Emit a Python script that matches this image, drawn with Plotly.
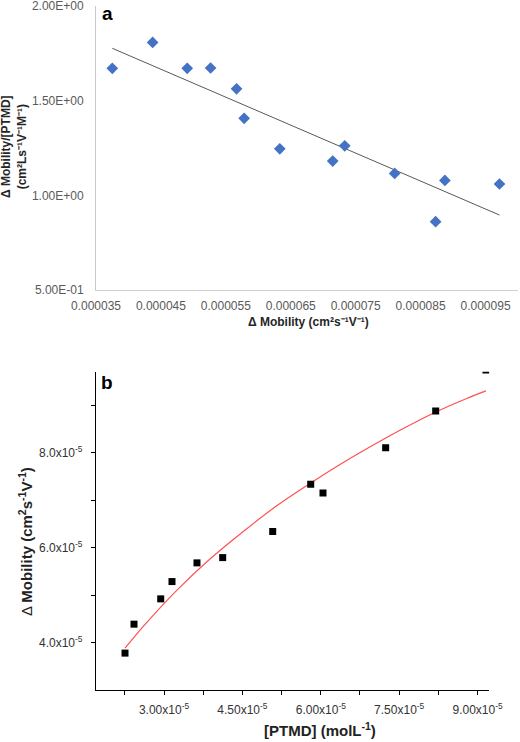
import plotly.graph_objects as go

W, H = 520, 742

# ---------------- Panel a data ----------------
a_x = [3.751e-5, 4.372e-5, 4.905e-5, 5.265e-5, 5.665e-5, 5.782e-5, 6.331e-5,
       7.146e-5, 7.331e-5, 8.100e-5, 8.731e-5, 8.874e-5, 9.715e-5]
a_y = [1.671, 1.808, 1.671, 1.673, 1.563, 1.407, 1.246,
       1.181, 1.262, 1.116, 0.861, 1.079, 1.060]
a_trend_x = [3.751e-5, 9.715e-5]
a_trend_y = [1.777, 0.896]
a_xticks = [3.5e-5, 4.5e-5, 5.5e-5, 6.5e-5, 7.5e-5, 8.5e-5, 9.5e-5]
a_xticklabels = ["0.000035", "0.000045", "0.000055", "0.000065", "0.000075", "0.000085", "0.000095"]
a_yticks = [0.5, 1.0, 1.5, 2.0]
a_yticklabels = ["5.00E-01", "1.00E+00", "1.50E+00", "2.00E+00"]

# ---------------- Panel b data ----------------
b_x = [2.254e-5, 2.426e-5, 2.937e-5, 3.153e-5, 3.631e-5, 4.123e-5, 5.080e-5,
       5.807e-5, 6.042e-5, 7.241e-5, 8.198e-5, 9.160e-5]
b_y = [3.777e-5, 4.387e-5, 4.920e-5, 5.284e-5, 5.678e-5, 5.789e-5, 6.337e-5,
       7.335e-5, 7.152e-5, 8.105e-5, 8.878e-5, 9.740e-5]
b_fit_x = [2.254e-5, 2.604e-5, 3.243e-5, 3.880e-5, 4.517e-5, 5.156e-5, 5.793e-5,
           6.430e-5, 6.878e-5, 7.515e-5, 8.152e-5, 8.791e-5, 9.160e-5]
b_fit_y = [3.880e-5, 4.340e-5, 5.100e-5, 5.760e-5, 6.340e-5, 6.880e-5, 7.350e-5,
           7.790e-5, 8.080e-5, 8.470e-5, 8.830e-5, 9.140e-5, 9.300e-5]
b_xticks = [3.0e-5, 4.5e-5, 6.0e-5, 7.5e-5, 9.0e-5]
b_xticklabels = ["3.00x10<sup>-5</sup>", "4.50x10<sup>-5</sup>", "6.00x10<sup>-5</sup>",
                 "7.50x10<sup>-5</sup>", "9.00x10<sup>-5</sup>"]
b_xminor = [2.25e-5, 3.75e-5, 5.25e-5, 6.75e-5, 8.25e-5]
b_yticks = [4.0e-5, 6.0e-5, 8.0e-5]
b_yticklabels = ["4.0x10<sup>-5</sup>", "6.0x10<sup>-5</sup>", "8.0x10<sup>-5</sup>"]
b_yminor = [5.0e-5, 7.0e-5, 9.0e-5]

FONT = "Liberation Sans, Arial, sans-serif"

fig = go.Figure()

fig.add_trace(go.Scatter(x=a_trend_x, y=a_trend_y, mode="lines",
                         line=dict(color="#595959", width=1),
                         xaxis="x", yaxis="y", showlegend=False, hoverinfo="skip"))
fig.add_trace(go.Scatter(x=a_x, y=a_y, mode="markers",
                         marker=dict(symbol="diamond", size=9, color="#4472C4"),
                         xaxis="x", yaxis="y", showlegend=False))

fig.add_trace(go.Scatter(x=b_fit_x, y=b_fit_y, mode="lines",
                         line=dict(color="#FF5050", width=1.2, shape="spline", smoothing=0.8),
                         xaxis="x2", yaxis="y2", showlegend=False, hoverinfo="skip"))
fig.add_trace(go.Scatter(x=b_x, y=b_y, mode="markers",
                         marker=dict(symbol="square", size=7, color="black"),
                         xaxis="x2", yaxis="y2", showlegend=False, cliponaxis=True))

def px_x(p):
    return p / W

def px_y(p):
    return 1 - p / H

fig.update_layout(
    width=W, height=H,
    margin=dict(l=0, r=0, t=0, b=0, autoexpand=False),
    paper_bgcolor="white", plot_bgcolor="white",
    font=dict(family=FONT, color="#404040"),
    xaxis=dict(domain=[px_x(96), px_x(518)], anchor="y", automargin=False,
               range=[3.5e-5, 1.0e-4], tickmode="array",
               tickvals=a_xticks, ticktext=a_xticklabels,
               showgrid=False, zeroline=False, showline=True,
               linecolor="#D0D0D0", linewidth=1, ticks="",
               tickfont=dict(size=12, color="#595959"), ticklabelstandoff=5,
               ticklabeloverflow="allow"),
    yaxis=dict(domain=[px_y(290), px_y(6)], anchor="x", automargin=False,
               range=[0.5, 2.0005], tickmode="array",
               tickvals=a_yticks, ticktext=a_yticklabels,
               showgrid=False, zeroline=False, showline=True,
               linecolor="#C8C8C8", linewidth=1, ticks="",
               tickfont=dict(size=12, color="#595959"), ticklabelstandoff=9,
               ticklabeloverflow="allow"),
    xaxis2=dict(domain=[px_x(96), px_x(489.3)], anchor="y2", automargin=False,
                range=[1.699e-5, 9.224e-5], tickmode="array",
                tickvals=b_xticks, ticktext=b_xticklabels,
                minor=dict(tickvals=b_xminor, ticks="outside", ticklen=4,
                           tickcolor="black", tickwidth=1),
                showgrid=False, zeroline=False, showline=True,
                linecolor="black", linewidth=1.3, ticks="outside",
                ticklen=4, tickcolor="black", tickwidth=1,
                tickfont=dict(size=12, color="#333333"), ticklabelstandoff=4,
                ticklabeloverflow="allow"),
    yaxis2=dict(domain=[px_y(690), px_y(371.7)], anchor="x2", automargin=False,
                range=[3.0e-5, 9.705e-5], tickmode="array",
                tickvals=b_yticks, ticktext=b_yticklabels,
                minor=dict(tickvals=b_yminor, ticks="outside", ticklen=4,
                           tickcolor="black", tickwidth=1),
                showgrid=False, zeroline=False, showline=True,
                linecolor="black", linewidth=1.3, ticks="outside",
                ticklen=4, tickcolor="black", tickwidth=1,
                tickfont=dict(size=12, color="#333333"), ticklabelstandoff=6,
                ticklabeloverflow="allow"),
)

ann = [
    dict(text="<b>a</b>", x=px_x(107), y=px_y(14), font=dict(size=19, color="black")),
    dict(text="<b>b</b>", x=px_x(107), y=px_y(382), font=dict(size=19, color="black")),
    dict(text="<b>Δ Mobility/[PTMD]<br>(cm²Ls⁻¹V⁻¹M⁻¹)</b>",
         x=px_x(14), y=px_y(147), textangle=-90, font=dict(size=12, color="#262626")),
    dict(text="<b>Δ Mobility (cm²s⁻¹V⁻¹)</b>",
         x=px_x(308), y=px_y(322), font=dict(size=12, color="#262626")),
    dict(text="Δ <b>Mobility (cm<sup>2</sup>s<sup>-1</sup>V<sup>-1</sup>)</b>",
         x=px_x(25), y=px_y(542), textangle=-90, font=dict(size=15, color="#222222")),
    dict(text="<b>[PTMD] (molL<sup>-1</sup>)</b>",
         x=px_x(320), y=px_y(729), font=dict(size=15, color="#222222")),
]
for a in ann:
    a.update(xref="paper", yref="paper", showarrow=False, xanchor="center", yanchor="middle")
fig.update_layout(annotations=ann)

fig.write_html("out.html", config={"displayModeBar": False},
               post_script="document.body.style.margin='0px';document.body.style.overflow='hidden';")
